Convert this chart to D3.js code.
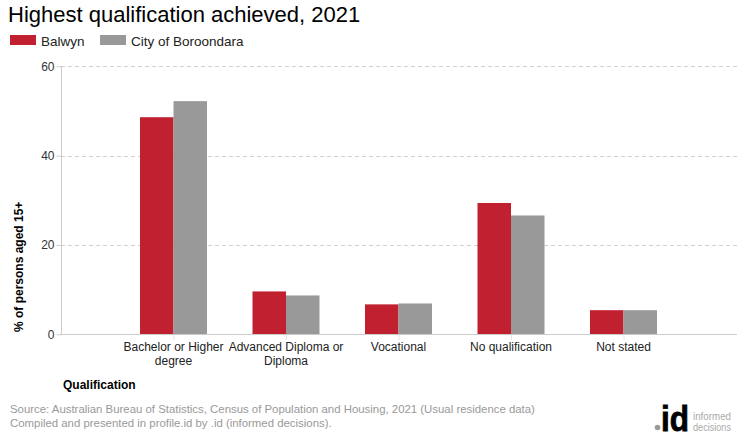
<!DOCTYPE html>
<html><head><meta charset="utf-8">
<script src="https://cdn.jsdelivr.net/npm/d3@7"></script>
<style>body{margin:0;background:#fff;}svg{display:block;font-family:"Liberation Sans",Arial,sans-serif;}</style>
</head><body><svg id="c" width="740" height="440"></svg>
<script>
const categories = [["Bachelor or Higher","degree"],["Advanced Diploma or","Diploma"],["Vocational"],["No qualification"],["Not stated"]];
const catKeys = ["Bachelor or Higher degree","Advanced Diploma or Diploma","Vocational","No qualification","Not stated"];
const seriesNames = ["Balwyn","City of Boroondara"];
const balwyn = [48.6, 9.6, 6.7, 29.4, 5.4];
const boroondara = [52.2, 8.7, 6.9, 26.6, 5.4];
const yTicks = [0,20,40,60];
const colors = ["#c0202f","#999999"];

const svg = d3.select("#c");
const L=61, R=736, T=66.3, B=334.3;
const x = d3.scalePoint().domain(catKeys).range([L,R]).padding(1);
const y = d3.scaleLinear().domain([0,60]).range([B,T]);
const barW = 33.5;
const xs = d3.scaleBand().domain(seriesNames).range([-barW, barW]);

// title
svg.append("text").attr("x",8).attr("y",22).attr("font-size",22).attr("fill","#000").text("Highest qualification achieved, 2021");
// legend
const leg = [{n:seriesNames[0],x:10,tx:41},{n:seriesNames[1],x:100,tx:131}];
leg.forEach((d,i)=>{
  svg.append("rect").attr("x",d.x).attr("y",35).attr("width",26).attr("height",10).attr("fill",colors[i]);
  svg.append("text").attr("x",d.tx).attr("y",45.5).attr("font-size",13.5).attr("fill","#222").text(d.n);
});

// grid
svg.append("g").selectAll("line").data(yTicks.filter(t=>t>0)).join("line")
  .attr("x1",L).attr("x2",R+1).attr("y1",d=>Math.round(y(d))+0.5).attr("y2",d=>Math.round(y(d))+0.5)
  .attr("stroke","#d0d0d0").attr("stroke-dasharray","4,3");

// y axis
const ya = svg.append("g").attr("transform",`translate(${L+0.5},0)`).call(d3.axisLeft(y).tickValues(yTicks).tickSize(5).tickPadding(2).tickFormat(d3.format("d")));
ya.select(".domain").attr("stroke","#ccc").attr("d",`M0,${T}V${B}`);
ya.selectAll(".tick line").attr("stroke","#ccc");
ya.selectAll("text").attr("font-size",12).attr("fill","#333").attr("font-family","Liberation Sans, Arial, sans-serif");

// bars
const data = catKeys.map((k,i)=>({k, vals:[balwyn[i],boroondara[i]]}));
const g = svg.append("g");
data.forEach(d=>{
  d.vals.forEach((v,j)=>{
    g.append("rect").attr("x",x(d.k)+xs(seriesNames[j])).attr("width",xs.bandwidth())
      .attr("y",y(v)).attr("height",B-y(v)).attr("fill",colors[j]);
  });
});

// x axis
const xa = svg.append("g").attr("transform",`translate(0,${Math.round(B)+0.5})`).call(d3.axisBottom(x).tickSize(5).tickFormat(""));
xa.select(".domain").attr("stroke","#ccc").attr("d",`M${L},0H${R+1}`);
xa.selectAll(".tick line").attr("stroke","#ccc").attr("stroke-dasharray","1,1");
catKeys.forEach((k,i)=>{
  const t = svg.append("text").attr("text-anchor","middle").attr("font-size",12).attr("fill","#222");
  categories[i].forEach((line,li)=>{
    t.append("tspan").attr("x",x(k)).attr("y",350.5+li*14).text(line);
  });
});

// axis titles
svg.append("text").attr("transform","translate(22.5,332) rotate(-90)").attr("font-size",12).attr("font-weight","bold").attr("fill","#000").text("% of persons aged 15+");
svg.append("text").attr("x",63).attr("y",389).attr("font-size",12).attr("font-weight","bold").attr("fill","#000").text("Qualification");

// footer
svg.append("text").attr("x",10).attr("y",413).attr("font-size",11.4).attr("fill","#999").text("Source: Australian Bureau of Statistics, Census of Population and Housing, 2021 (Usual residence data)");
svg.append("text").attr("x",10).attr("y",427).attr("font-size",11.4).attr("fill","#999").text("Compiled and presented in profile.id by .id (informed decisions).");

// logo
svg.append("circle").attr("cx",657.5).attr("cy",427.5).attr("r",2.8).attr("fill","#999");
svg.append("text").attr("x",661).attr("y",430.5).attr("font-size",35).attr("font-weight","bold").attr("fill","#000").attr("stroke","#000").attr("stroke-width",0.8).attr("textLength",28).attr("lengthAdjust","spacingAndGlyphs").text("id");
svg.append("text").attr("x",693).attr("y",420).attr("font-size",10).attr("fill","#aaa").attr("textLength",38).attr("lengthAdjust","spacingAndGlyphs").text("informed");
svg.append("text").attr("x",693).attr("y",431).attr("font-size",10).attr("fill","#aaa").attr("textLength",38).attr("lengthAdjust","spacingAndGlyphs").text("decisions");
</script></body></html>
